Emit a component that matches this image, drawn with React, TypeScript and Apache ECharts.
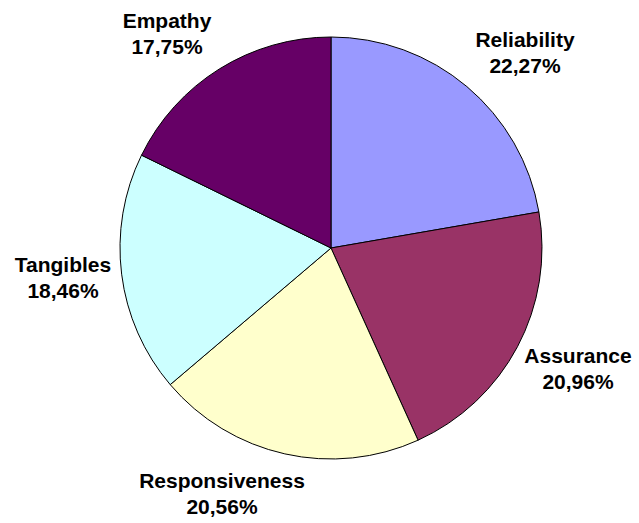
import React, { useEffect, useRef } from "react";
import * as echarts from "echarts";

const categories = ["Reliability", "Assurance", "Responsiveness", "Tangibles", "Empathy"];
const values = [22.27, 20.96, 20.56, 18.46, 17.75];
const colors = ["#9999FF", "#993366", "#FFFFCC", "#CCFFFF", "#660066"];
const labelPositions: [number, number][] = [
  [525, 52],
  [578, 368],
  [222, 493],
  [63, 277],
  [167, 33],
];

export default function App() {
  const ref = useRef<HTMLDivElement>(null);
  useEffect(() => {
    if (!ref.current) return;
    const chart = echarts.init(ref.current, null, { renderer: "svg" });
    chart.setOption({
      animation: false,
      backgroundColor: "#ffffff",
      series: [
        {
          type: "pie",
          center: [331, 248],
          radius: 211,
          startAngle: 90,
          clockwise: true,
          silent: true,
          avoidLabelOverlap: false,
          data: categories.map((c, i) => ({
            name: c,
            value: values[i],
            itemStyle: { color: colors[i] },
          })),
          itemStyle: { borderColor: "#000000", borderWidth: 1 },
          label: {
            show: true,
            position: "outside",
            overflow: "none",
            formatter: (p: any) =>
              p.name + "\n" + Number(p.value).toFixed(2).replace(".", ",") + "%",
            fontFamily: "Liberation Sans, Arial, sans-serif",
            fontWeight: "bold",
            fontSize: 21,
            lineHeight: 26,
            color: "#000000",
            align: "center",
          },
          labelLine: { show: false },
          labelLayout: (params: any) => {
            const pos = labelPositions[params.dataIndex];
            return {
              x: pos[0],
              y: pos[1],
              align: "center",
              verticalAlign: "middle",
            };
          },
        },
      ],
    });
    return () => chart.dispose();
  }, []);
  return (
    <div
      ref={ref}
      style={{ position: "fixed", left: 0, top: 0, width: 639, height: 523 }}
    />
  );
}
